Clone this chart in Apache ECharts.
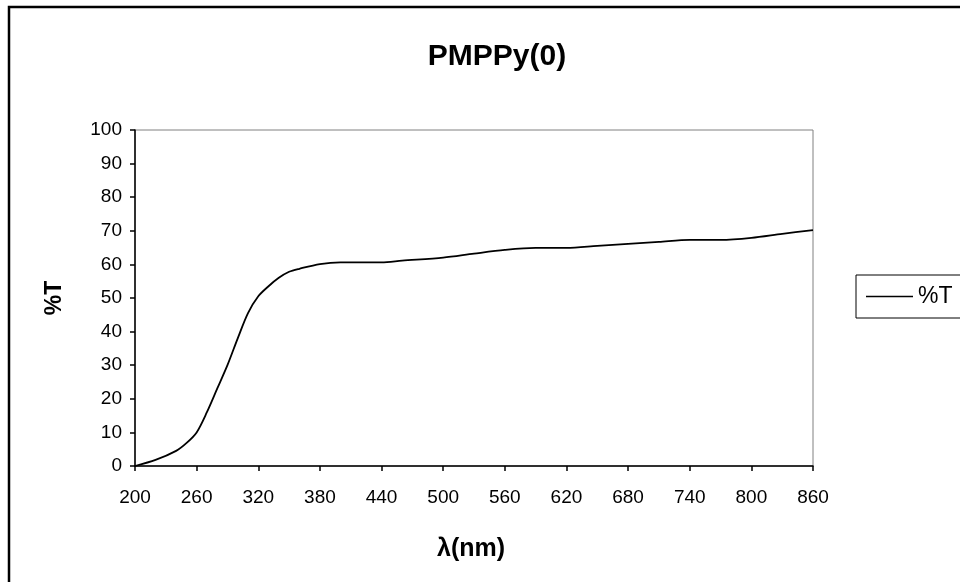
<!DOCTYPE html>
<html>
<head>
<meta charset="utf-8">
<style>
  html, body { margin: 0; padding: 0; background: #fff; }
  #chart { width: 960px; height: 582px; }
</style>
<script src="https://cdn.jsdelivr.net/npm/echarts@6/dist/echarts.min.js"></script>
</head>
<body>
<div id="chart"></div>
<script>
// Transmission spectrum of PMPPy(0)
const wavelengths = [200, 220, 240, 250, 260, 270, 280, 290, 300, 310, 320, 330, 340, 350, 360, 380, 400, 440, 460, 500, 530, 560, 590, 620, 650, 680, 710, 740, 770, 800, 830, 860];
const transmittance = [0, 1.8, 4.5, 6.8, 10, 16, 23, 30, 38, 45.5, 50.5, 53.5, 56, 57.8, 58.7, 60.1, 60.6, 60.6, 61.1, 62.0, 63.2, 64.3, 64.9, 64.9, 65.5, 66.1, 66.7, 67.3, 67.3, 67.9, 69.1, 70.2];
const seriesName = '%T';
const chartTitle = 'PMPPy(0)';
const xAxisTitle = 'λ(nm)';
const yAxisTitle = '%T';

const FONT = 'Liberation Sans, Arial, sans-serif';
const points = wavelengths.map((w, i) => [w, transmittance[i]]);

const chart = echarts.init(document.getElementById('chart'), null, { renderer: 'canvas' });
chart.setOption({
  animation: false,
  backgroundColor: '#fff',
  title: {
    text: chartTitle,
    left: 492,
    top: 52,
    textAlign: 'center',
    textVerticalAlign: 'middle',
    textStyle: { fontFamily: FONT, fontSize: 30, fontWeight: 'bold', color: '#000' }
  },
  graphic: [
    {
      type: 'rect',
      shape: { x: 9, y: 7, width: 1000, height: 1000 },
      style: { fill: 'none', stroke: '#000', lineWidth: 2.5 },
      silent: true
    },
    {
      type: 'text',
      x: 471, y: 549,
      style: { text: xAxisTitle, font: 'bold 25px ' + FONT, fill: '#000', textAlign: 'center', textVerticalAlign: 'middle' }
    }
  ],
  legend: {
    left: 856,
    top: 275,
    orient: 'vertical',
    icon: 'rect',
    itemWidth: 47,
    itemHeight: 1.5,
    padding: [10, 30, 10, 10],
    borderColor: '#000',
    borderWidth: 1,
    textStyle: { fontFamily: FONT, fontSize: 23, color: '#000' },
    data: [seriesName]
  },
  grid: {
    left: 135, top: 130, right: 147, bottom: 116,
    show: true,
    borderColor: '#808080',
    borderWidth: 1,
    backgroundColor: 'transparent'
  },
  xAxis: {
    type: 'value',
    min: 200, max: 860, interval: 60,
    axisLine: { show: true, lineStyle: { color: '#000', width: 1.5 } },
    axisTick: { show: true, length: 5, inside: false, lineStyle: { color: '#000', width: 1.5 } },
    axisLabel: { fontFamily: FONT, fontSize: 19, color: '#000', margin: 22 },
    splitLine: { show: false }
  },
  yAxis: {
    type: 'value',
    min: 0, max: 100, interval: 10,
    name: yAxisTitle,
    nameLocation: 'middle',
    nameGap: 69,
    nameRotate: 90,
    nameTextStyle: { fontFamily: FONT, fontSize: 23, fontWeight: 'bold', color: '#000' },
    axisLine: { show: true, lineStyle: { color: '#000', width: 1.5 } },
    axisTick: { show: true, length: 5, inside: false, lineStyle: { color: '#000', width: 1.5 } },
    axisLabel: { fontFamily: FONT, fontSize: 19, color: '#000', margin: 13 },
    splitLine: { show: false }
  },
  series: [{
    name: seriesName,
    type: 'line',
    data: points,
    symbol: 'none',
    smooth: 0.3,
    lineStyle: { color: '#000', width: 1.8 },
    itemStyle: { color: '#000' }
  }]
});
</script>
</body>
</html>
